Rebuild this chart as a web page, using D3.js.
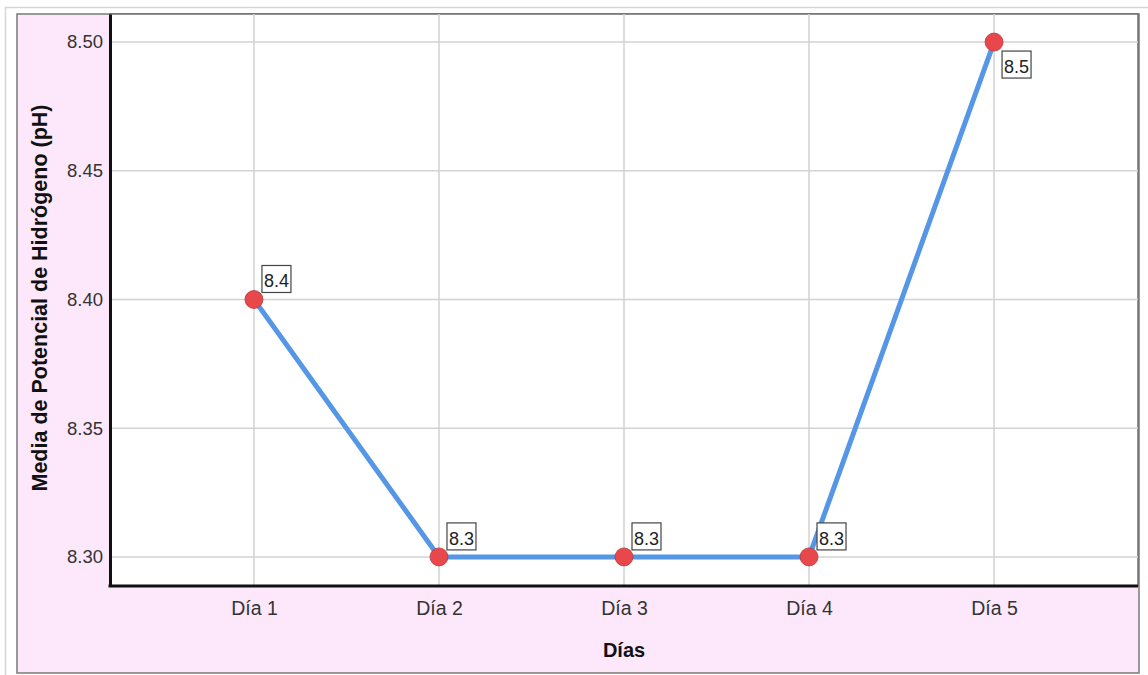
<!DOCTYPE html>
<html>
<head>
<meta charset="utf-8">
<script src="https://cdn.jsdelivr.net/npm/d3@7"></script>
<style>
  html, body { margin: 0; padding: 0; background: #ffffff; }
  svg { display: block; font-family: "Liberation Sans", Arial, sans-serif; }
</style>
</head>
<body>
<svg id="chart" width="1148" height="675"></svg>
<script>
// pH medio por día
const dias = ["Día 1", "Día 2", "Día 3", "Día 4", "Día 5"];
const phMedio = [8.4, 8.3, 8.3, 8.3, 8.5];
const etiquetas = ["8.4", "8.3", "8.3", "8.3", "8.5"];
const yTicks = [8.30, 8.35, 8.40, 8.45, 8.50];

const svg = d3.select("#chart");
const W = 1148, H = 675;

// outer page frame
svg.append("line").attr("x1", 5).attr("x2", W).attr("y1", 7.5).attr("y2", 7.5)
  .attr("stroke", "#d6d6d6").attr("stroke-width", 1.5);
svg.append("line").attr("x1", 5.5).attr("x2", 5.5).attr("y1", 7).attr("y2", H)
  .attr("stroke", "#d6d6d6").attr("stroke-width", 1.5);

// chart background panel
const panel = { left: 17, top: 14, right: 1139, bottom: 673 };
svg.append("rect")
  .attr("x", panel.left).attr("y", panel.top)
  .attr("width", panel.right - panel.left).attr("height", panel.bottom - panel.top)
  .attr("fill", "#fde8fb").attr("stroke", "#7a7a7a").attr("stroke-width", 1.5);

const plot = { left: 110, top: 14, right: 1138, bottom: 586 };

const x = d3.scalePoint().domain(dias)
  .range([plot.left, plot.right]).padding(0.778);
const y = d3.scaleLinear().domain([8.2887, 8.5109])
  .range([plot.bottom, plot.top]);

// plot area
svg.append("rect")
  .attr("x", plot.left).attr("y", plot.top)
  .attr("width", plot.right - plot.left).attr("height", plot.bottom - plot.top)
  .attr("fill", "#ffffff").attr("stroke", "#6e6e6e").attr("stroke-width", 1.5);

// grid
const grid = svg.append("g").attr("stroke", "#d2d2d2").attr("stroke-width", 1.5);
grid.selectAll("line.h").data(yTicks).join("line").attr("class", "h")
  .attr("x1", plot.left).attr("x2", plot.right)
  .attr("y1", d => y(d)).attr("y2", d => y(d));
grid.selectAll("line.v").data(dias).join("line").attr("class", "v")
  .attr("x1", d => x(d)).attr("x2", d => x(d))
  .attr("y1", plot.top).attr("y2", plot.bottom);

// axes
const yAxis = svg.append("g").attr("transform", `translate(${plot.left},0)`)
  .call(d3.axisLeft(y).tickValues(yTicks).tickFormat(d3.format(".2f")).tickSize(0).tickPadding(7));
yAxis.select(".domain").attr("stroke", "#111").attr("stroke-width", 3);
yAxis.selectAll("text").attr("font-size", 18.5).attr("fill", "#333");

const xAxis = svg.append("g").attr("transform", `translate(0,${plot.bottom})`)
  .call(d3.axisBottom(x).tickSize(0).tickPadding(15));
xAxis.select(".domain").attr("stroke", "#111").attr("stroke-width", 3)
  .attr("d", `M${plot.left - 1.5},0H${plot.right}`);
xAxis.selectAll("text").attr("font-size", 19.5).attr("fill", "#333");

// axis titles
svg.append("text")
  .attr("x", (plot.left + plot.right) / 2).attr("y", 657)
  .attr("text-anchor", "middle").attr("font-size", 20).attr("font-weight", "bold")
  .attr("fill", "#111").text("Días");
svg.append("text")
  .attr("transform", `translate(47,298) rotate(-90)`)
  .attr("text-anchor", "middle").attr("font-size", 21.5).attr("font-weight", "bold")
  .attr("fill", "#111").text("Media de Potencial de Hidrógeno (pH)");

// line
const pts = dias.map((d, i) => ({ d, v: phMedio[i], lab: etiquetas[i] }));
svg.append("path").datum(pts)
  .attr("fill", "none").attr("stroke", "#5596e6").attr("stroke-width", 5)
  .attr("d", d3.line().x(p => x(p.d)).y(p => y(p.v)));

// markers
svg.selectAll("circle.pt").data(pts).join("circle").attr("class", "pt")
  .attr("cx", p => x(p.d)).attr("cy", p => y(p.v)).attr("r", 9)
  .attr("fill", "#e8474b").attr("stroke", "#b83a3c").attr("stroke-width", 0.8);

// value labels (last one sits below-right of its point)
const lab = svg.selectAll("g.lab").data(pts).join("g").attr("class", "lab")
  .attr("transform", (p, i) => {
    const dx = 8, dy = i === pts.length - 1 ? 9 : -34;
    return `translate(${x(p.d) + dx},${y(p.v) + dy})`;
  });
lab.append("rect").attr("x", 0).attr("y", 0).attr("width", 29).attr("height", 27)
  .attr("fill", "#ffffff").attr("stroke", "#444").attr("stroke-width", 1.2);
lab.append("text").attr("x", 14.5).attr("y", 22).attr("text-anchor", "middle")
  .attr("font-size", 18).attr("fill", "#222").text(p => p.lab);
</script>
</body>
</html>
